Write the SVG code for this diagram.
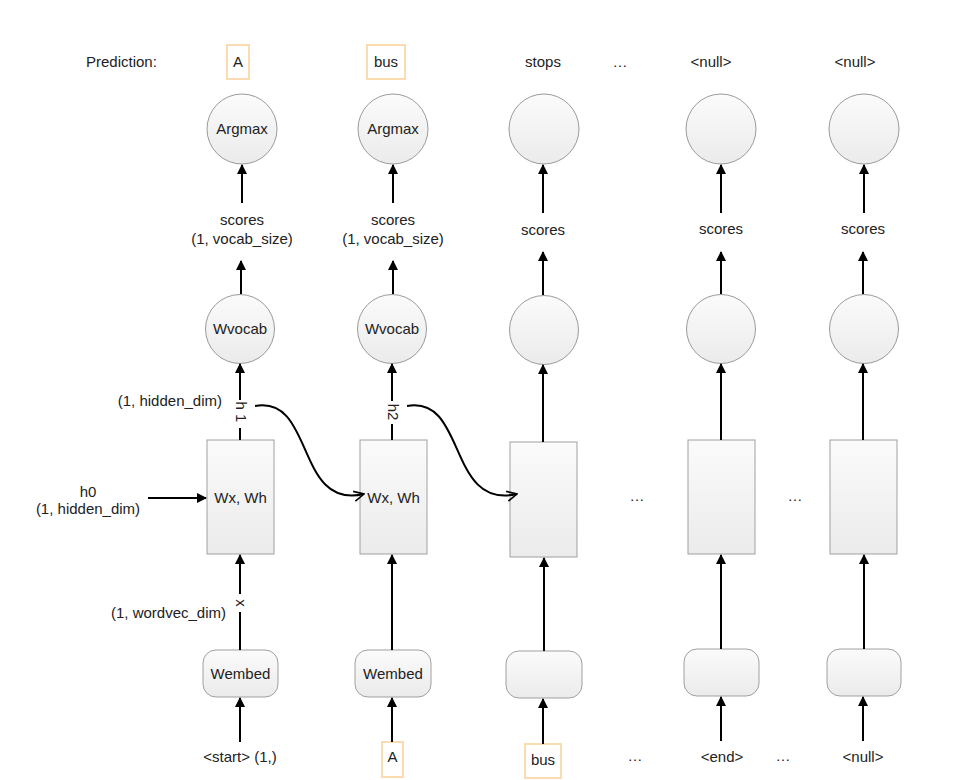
<svg xmlns="http://www.w3.org/2000/svg" width="958" height="780" viewBox="0 0 958 780">
<defs>
<linearGradient id="g" x1="0" y1="0" x2="0" y2="1"><stop offset="0" stop-color="#fbfbfb"/><stop offset="1" stop-color="#ebebeb"/></linearGradient>
<marker id="ah" viewBox="0 0 10 10" refX="9" refY="5" markerWidth="5" markerHeight="5" markerUnits="strokeWidth" orient="auto"><path d="M0,0 L10,5 L0,10 z" fill="#000"/></marker>
<marker id="oh" viewBox="0 0 12 12" refX="11" refY="6" markerWidth="6" markerHeight="6" markerUnits="strokeWidth" orient="auto"><path d="M1,1 L11,6 L1,11" fill="none" stroke="#000" stroke-width="1.6"/></marker>
</defs>
<style>
text{font-family:"Liberation Sans",Arial,sans-serif;font-size:15px;fill:#222;text-anchor:middle}
.c{fill:url(#g);stroke:#9a9a9a;stroke-width:1}
.r{fill:url(#g);stroke:#a0a0a0;stroke-width:1}
.ob{fill:#fff;stroke:#fbdcb0;stroke-width:2}
.a{stroke:#000;stroke-width:2;fill:none;marker-end:url(#ah)}
.l{stroke:#000;stroke-width:2;fill:none}
.cv{stroke:#000;stroke-width:2;fill:none;marker-end:url(#oh)}
</style>
<rect width="958" height="780" fill="#fff"/>

<g id="labels-top">
<text x="86" y="67" style="text-anchor:start">Prediction:</text>
<rect class="ob" x="227" y="45" width="22" height="34"/>
<text x="238" y="67">A</text>
<rect class="ob" x="367" y="45" width="38" height="34"/>
<text x="386" y="67">bus</text>
<text x="543" y="67">stops</text>
<text x="620" y="67">…</text>
<text x="711" y="67">&lt;null&gt;</text>
<text x="855" y="67">&lt;null&gt;</text>
</g>

<g id="argmax1"><circle class="c" cx="242" cy="129" r="35"/><text x="242" y="134">Argmax</text></g>
<g id="argmax2"><circle class="c" cx="393" cy="129" r="35"/><text x="393" y="134">Argmax</text></g>
<g id="argmax3"><circle class="c" cx="544" cy="129" r="35"/></g>
<g id="argmax4"><circle class="c" cx="721" cy="129" r="35"/></g>
<g id="argmax5"><circle class="c" cx="864" cy="129" r="35"/></g>

<g id="scores-labels">
<text x="242" y="225">scores</text>
<text x="242" y="244">(1, vocab_size)</text>
<text x="393" y="225">scores</text>
<text x="393" y="244">(1, vocab_size)</text>
<text x="543" y="235">scores</text>
<text x="721" y="234">scores</text>
<text x="863" y="234">scores</text>
</g>

<g id="wvocab1"><circle class="c" cx="240" cy="329" r="34.5"/><text x="240" y="334">Wvocab</text></g>
<g id="wvocab2"><circle class="c" cx="392" cy="329" r="34.5"/><text x="392" y="334">Wvocab</text></g>
<g id="wvocab3"><circle class="c" cx="544" cy="330" r="34.5"/></g>
<g id="wvocab4"><circle class="c" cx="721" cy="329" r="34.5"/></g>
<g id="wvocab5"><circle class="c" cx="864" cy="329" r="34.5"/></g>

<g id="rnn1"><rect class="r" x="207" y="440" width="67" height="114"/><text x="240.5" y="503">Wx, Wh</text></g>
<g id="rnn2"><rect class="r" x="360" y="440" width="67" height="114"/><text x="393.5" y="503">Wx, Wh</text></g>
<g id="rnn3"><rect class="r" x="510" y="442" width="67" height="115"/></g>
<g id="rnn4"><rect class="r" x="688" y="440" width="67" height="114"/></g>
<g id="rnn5"><rect class="r" x="830" y="440" width="67" height="114"/></g>

<g id="wembed1"><rect class="r" x="203" y="650" width="75" height="47" rx="13"/><text x="240.5" y="679">Wembed</text></g>
<g id="wembed2"><rect class="r" x="355" y="650" width="76" height="47" rx="13"/><text x="393" y="679">Wembed</text></g>
<g id="wembed3"><rect class="r" x="506" y="651" width="76" height="47" rx="13"/></g>
<g id="wembed4"><rect class="r" x="684" y="649" width="75" height="47" rx="13"/></g>
<g id="wembed5"><rect class="r" x="827" y="649" width="74" height="47" rx="13"/></g>

<g id="side-labels">
<text x="222" y="406" style="text-anchor:end">(1, hidden_dim)</text>
<text x="241" y="412" transform="rotate(90 241 412)" dy="5">h 1</text>
<text x="393" y="412" transform="rotate(90 393 412)" dy="5">h2</text>
<text x="88" y="497">h0</text>
<text x="88" y="514">(1, hidden_dim)</text>
<text x="226" y="618" style="text-anchor:end">(1, wordvec_dim)</text>
<text x="241" y="603" transform="rotate(90 241 603)" dy="5">x</text>
<text x="637" y="501">…</text>
<text x="795" y="501">…</text>
</g>

<g id="labels-bottom">
<text x="240" y="762">&lt;start&gt; (1,)</text>
<rect class="ob" x="382" y="742" width="21" height="35"/>
<text x="392.5" y="762">A</text>
<rect class="ob" x="525" y="744" width="36" height="34"/>
<text x="543" y="765">bus</text>
<text x="635" y="761">…</text>
<text x="722" y="762">&lt;end&gt;</text>
<text x="783" y="761">…</text>
<text x="863" y="762">&lt;null&gt;</text>
</g>

<g id="connectors">
<!-- scores to argmax -->
<line class="a" x1="242" y1="203" x2="242" y2="165"/>
<line class="a" x1="393" y1="203" x2="393" y2="165"/>
<line class="a" x1="543" y1="213" x2="543" y2="165"/>
<line class="a" x1="721" y1="213" x2="721" y2="165"/>
<line class="a" x1="864" y1="213" x2="864" y2="165"/>
<!-- wvocab to scores -->
<line class="a" x1="241" y1="294" x2="241" y2="261"/>
<line class="a" x1="393" y1="294" x2="393" y2="261"/>
<line class="a" x1="543" y1="295" x2="543" y2="252"/>
<line class="a" x1="721" y1="294" x2="721" y2="252"/>
<line class="a" x1="863" y1="294" x2="863" y2="252"/>
<!-- rnn to wvocab -->
<line class="a" x1="240" y1="400" x2="240" y2="364"/>
<line class="l" x1="240" y1="428" x2="240" y2="440"/>
<line class="a" x1="392" y1="401" x2="392" y2="364"/>
<line class="l" x1="392" y1="424" x2="392" y2="440"/>
<line class="a" x1="543" y1="442" x2="543" y2="365"/>
<line class="a" x1="721" y1="440" x2="721" y2="364"/>
<line class="a" x1="863" y1="440" x2="863" y2="364"/>
<!-- h0 -->
<line class="a" x1="148" y1="498" x2="206" y2="498"/>
<!-- hidden curves -->
<path class="cv" d="M255,406 C315,395 295,510 364,494"/>
<path class="cv" d="M407,406 C467,395 447,510 517,494"/>
<!-- wembed to rnn -->
<line class="a" x1="240" y1="594" x2="240" y2="555"/>
<line class="l" x1="240" y1="612" x2="240" y2="650"/>
<line class="a" x1="392" y1="650" x2="392" y2="555"/>
<line class="a" x1="544" y1="651" x2="544" y2="558"/>
<line class="a" x1="721" y1="649" x2="721" y2="555"/>
<line class="a" x1="864" y1="649" x2="864" y2="555"/>
<!-- inputs to wembed -->
<line class="a" x1="240" y1="742" x2="240" y2="698"/>
<line class="a" x1="392" y1="742" x2="392" y2="698"/>
<line class="a" x1="543" y1="744" x2="543" y2="699"/>
<line class="a" x1="721" y1="741" x2="721" y2="697"/>
<line class="a" x1="863" y1="741" x2="863" y2="697"/>
</g>
</svg>
